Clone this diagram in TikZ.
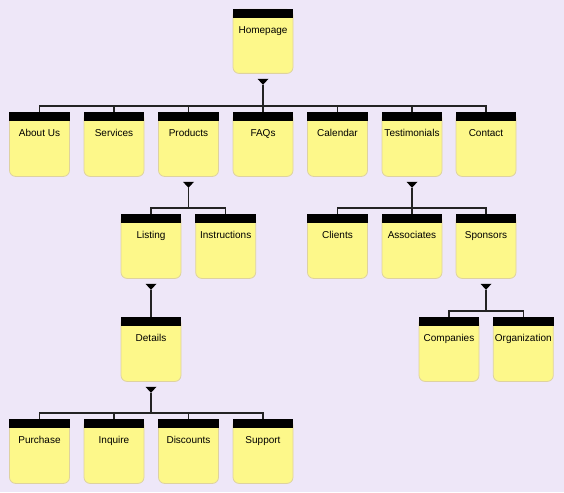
\documentclass[tikz,border=0pt]{standalone}
\usepackage{fontspec}
\setmainfont{Liberation Sans}
\definecolor{sitebg}{RGB}{238,231,248}
\definecolor{notefill}{RGB}{253,248,138}
\definecolor{noteline}{RGB}{222,210,160}
\definecolor{linkline}{RGB}{35,35,35}

\begin{document}
\begin{tikzpicture}[x=1pt,y=-1pt,
	pagebox/.style={draw=noteline, fill=notefill, line width=0.8pt,
		rounded corners=6pt, minimum width=60pt, inner sep=0pt,
		text height=24pt, text depth=40pt, text=black,
		font=\fontsize{10}{12}\selectfont, anchor=north},
	link/.style={draw=linkline, line width=1.3pt}]

% Just a workaround to fix the page size and colour
\fill[sitebg] (0,0) rectangle (564,492);

% Boxes
\newcommand{\pbox}[3]{
	\node[pagebox] (#1) at (#2) {#3};
	\fill[black] (#1.north west) rectangle ([yshift=-9pt]#1.north east);
}
\pbox {home}    {263,9}     {Homepage}
\pbox {about}   {39.5,112}  {About Us}
\pbox {serv}    {114,112}   {Services}
\pbox {prod}    {188.5,112} {Products}
\pbox {faqs}    {263,112}   {FAQs}
\pbox {cal}     {337.5,112} {Calendar}
\pbox {testi}   {412,112}   {Testimonials}
\pbox {contact} {486,112}   {Contact}
\pbox {listing} {151,214}   {Listing}
\pbox {instr}   {225.7,214} {Instructions}
\pbox {clients} {337.5,214} {Clients}
\pbox {assoc}   {412,214}   {Associates}
\pbox {spons}   {486,214}   {Sponsors}
\pbox {details} {151,317}   {Details}
\pbox {comp}    {449,317}   {Companies}
\pbox {org}     {523.3,317} {Organization}
\pbox {purch}   {39.5,419}  {Purchase}
\pbox {inq}     {114,419}   {Inquire}
\pbox {disc}    {188.5,419} {Discounts}
\pbox {supp}    {263,419}   {Support}

% Connectors
\newcommand{\branch}[2]{
	\fill[black] ([yshift=-5pt]#1.south) ++(-5.5,0) -- ++(11,0) -- ++(-5.5,6) -- cycle;
	\foreach \c in {#2}{
		\coordinate (bus) at ([yshift=6pt]\c.north);
		\draw[link] (\c.north) |- (#1.south |- bus);
	}
	\draw[link] ([yshift=-11pt]#1.south) -- (#1.south |- bus);
}
\branch {home}    {about,serv,prod,faqs,cal,testi,contact}
\branch {prod}    {listing,instr}
\branch {listing} {details}
\branch {details} {purch,inq,disc,supp}
\branch {testi}   {clients,assoc,spons}
\branch {spons}   {comp,org}
\end{tikzpicture}
\end{document}
